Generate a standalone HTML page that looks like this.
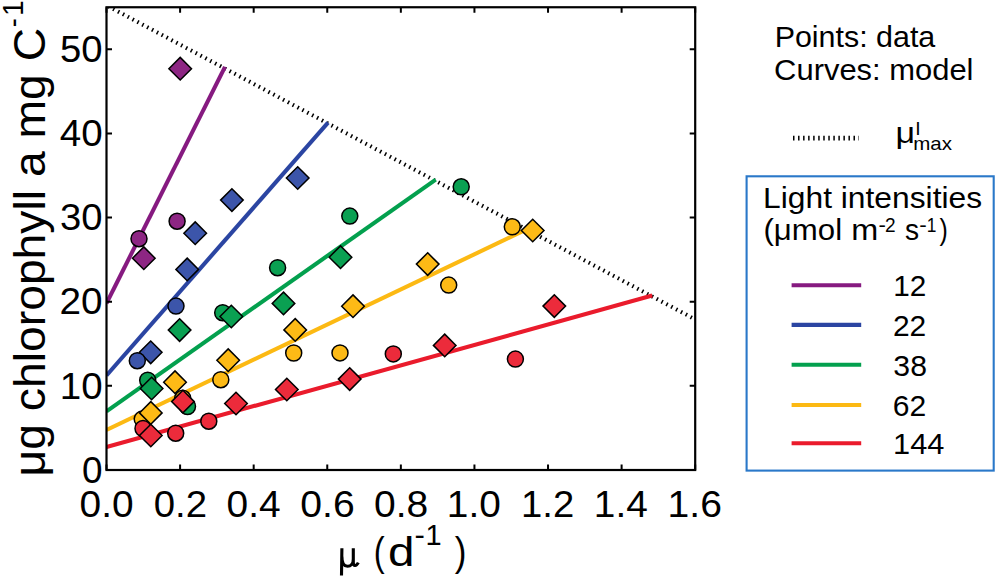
<!DOCTYPE html><html><head><meta charset="utf-8"><style>html,body{margin:0;padding:0;background:#fff;overflow:hidden}svg{display:block}text{font-family:"Liberation Sans",sans-serif;fill:#000}</style></head><body>
<svg width="997" height="578" viewBox="0 0 997 578">
<defs><clipPath id="ax"><rect x="106.5" y="7.25" width="588.70" height="462.75"/></clipPath></defs>
<g clip-path="url(#ax)"><line x1="106.5" y1="5.35" x2="695.2" y2="319.4" stroke="#000" stroke-width="4.0" stroke-dasharray="1.5 4.0" stroke-dashoffset="3.5"/>
<line x1="106.5" y1="303.3" x2="225.0" y2="66.9" stroke="#861A80" stroke-width="4.1"/>
<line x1="106.5" y1="375.5" x2="328.0" y2="122.6" stroke="#2B45A2" stroke-width="4.1"/>
<line x1="106.5" y1="411.3" x2="435.7" y2="179.6" stroke="#03A04E" stroke-width="4.1"/>
<line x1="106.5" y1="430.0" x2="528.0" y2="228.7" stroke="#FCB913" stroke-width="4.1"/>
<line x1="106.5" y1="446.9" x2="652.2" y2="295.6" stroke="#EA1B2C" stroke-width="4.1"/>
</g>
<g stroke="#000" stroke-width="1.5" stroke-linejoin="miter">
<circle cx="139.0" cy="238.7" r="8.0" fill="#8D2683"/>
<circle cx="177.1" cy="221.2" r="8.0" fill="#8D2683"/>
<path d="M180.2 57.4L191.5 68.7L180.2 80.0L168.9 68.7Z" fill="#8D2683"/>
<path d="M143.8 246.9L155.1 258.2L143.8 269.5L132.5 258.2Z" fill="#8D2683"/>
<path d="M231.9 188.8L243.2 200.1L231.9 211.4L220.6 200.1Z" fill="#3C55AA"/>
<path d="M297.7 166.7L309.0 178.0L297.7 189.3L286.4 178.0Z" fill="#3C55AA"/>
<path d="M195.2 221.9L206.5 233.2L195.2 244.5L183.9 233.2Z" fill="#3C55AA"/>
<path d="M187.2 258.1L198.5 269.4L187.2 280.7L175.9 269.4Z" fill="#3C55AA"/>
<path d="M150.7 341.0L162.0 352.3L150.7 363.6L139.4 352.3Z" fill="#3C55AA"/>
<circle cx="176.0" cy="306.1" r="8.0" fill="#3C55AA"/>
<circle cx="137.3" cy="360.7" r="8.0" fill="#3C55AA"/>
<circle cx="461.2" cy="186.8" r="8.0" fill="#0AA052"/>
<circle cx="349.8" cy="216.1" r="8.0" fill="#0AA052"/>
<circle cx="277.6" cy="267.7" r="8.0" fill="#0AA052"/>
<circle cx="222.7" cy="312.7" r="8.0" fill="#0AA052"/>
<circle cx="147.7" cy="380.2" r="8.0" fill="#0AA052"/>
<circle cx="187.5" cy="406.5" r="8.0" fill="#0AA052"/>
<path d="M340.5 245.9L351.8 257.2L340.5 268.5L329.2 257.2Z" fill="#0AA052"/>
<path d="M283.5 292.1L294.8 303.4L283.5 314.7L272.2 303.4Z" fill="#0AA052"/>
<path d="M231.3 305.2L242.6 316.5L231.3 327.8L220.0 316.5Z" fill="#0AA052"/>
<path d="M179.6 318.8L190.9 330.1L179.6 341.4L168.3 330.1Z" fill="#0AA052"/>
<path d="M151.6 377.2L162.9 388.5L151.6 399.8L140.3 388.5Z" fill="#0AA052"/>
<circle cx="512.3" cy="226.8" r="8.0" fill="#FDBA16"/>
<circle cx="448.7" cy="285.1" r="8.0" fill="#FDBA16"/>
<circle cx="293.7" cy="353.0" r="8.0" fill="#FDBA16"/>
<circle cx="340.0" cy="352.9" r="8.0" fill="#FDBA16"/>
<circle cx="220.8" cy="379.7" r="8.0" fill="#FDBA16"/>
<circle cx="182.7" cy="398.3" r="8.0" fill="#FDBA16"/>
<circle cx="142.2" cy="419.1" r="8.0" fill="#FDBA16"/>
<path d="M532.7 219.2L544.0 230.5L532.7 241.8L521.4 230.5Z" fill="#FDBA16"/>
<path d="M427.7 252.8L439.0 264.1L427.7 275.4L416.4 264.1Z" fill="#FDBA16"/>
<path d="M353.0 294.9L364.3 306.2L353.0 317.5L341.7 306.2Z" fill="#FDBA16"/>
<path d="M295.2 318.6L306.5 329.9L295.2 341.2L283.9 329.9Z" fill="#FDBA16"/>
<path d="M228.2 348.9L239.5 360.2L228.2 371.5L216.9 360.2Z" fill="#FDBA16"/>
<path d="M175.0 370.9L186.3 382.2L175.0 393.5L163.7 382.2Z" fill="#FDBA16"/>
<path d="M150.8 401.6L162.1 412.9L150.8 424.2L139.5 412.9Z" fill="#FDBA16"/>
<circle cx="515.4" cy="359.1" r="8.0" fill="#EC2B3B"/>
<circle cx="393.3" cy="353.9" r="8.0" fill="#EC2B3B"/>
<circle cx="208.8" cy="421.2" r="8.0" fill="#EC2B3B"/>
<circle cx="175.7" cy="433.2" r="8.0" fill="#EC2B3B"/>
<circle cx="143.0" cy="428.5" r="8.0" fill="#EC2B3B"/>
<path d="M554.3 294.8L565.6 306.1L554.3 317.4L543.0 306.1Z" fill="#EC2B3B"/>
<path d="M444.7 334.1L456.0 345.4L444.7 356.7L433.4 345.4Z" fill="#EC2B3B"/>
<path d="M349.7 367.8L361.0 379.1L349.7 390.4L338.4 379.1Z" fill="#EC2B3B"/>
<path d="M286.8 378.2L298.1 389.5L286.8 400.8L275.5 389.5Z" fill="#EC2B3B"/>
<path d="M236.0 392.2L247.3 403.5L236.0 414.8L224.7 403.5Z" fill="#EC2B3B"/>
<path d="M182.9 390.3L194.2 401.6L182.9 412.9L171.6 401.6Z" fill="#EC2B3B"/>
<path d="M150.8 424.2L162.1 435.5L150.8 446.8L139.5 435.5Z" fill="#EC2B3B"/>
</g>
<rect x="106.5" y="7.25" width="588.70" height="462.75" fill="none" stroke="#000" stroke-width="2.2"/>
<path d="M106.50 470.0v-5.5M106.50 7.25v5.5M180.09 470.0v-5.5M180.09 7.25v5.5M253.68 470.0v-5.5M253.68 7.25v5.5M327.26 470.0v-5.5M327.26 7.25v5.5M400.85 470.0v-5.5M400.85 7.25v5.5M474.44 470.0v-5.5M474.44 7.25v5.5M548.03 470.0v-5.5M548.03 7.25v5.5M621.61 470.0v-5.5M621.61 7.25v5.5M695.20 470.0v-5.5M695.20 7.25v5.5M106.5 470.00h5.5M695.2 470.00h-5.5M106.5 385.86h5.5M695.2 385.86h-5.5M106.5 301.73h5.5M695.2 301.73h-5.5M106.5 217.59h5.5M695.2 217.59h-5.5M106.5 133.45h5.5M695.2 133.45h-5.5M106.5 49.32h5.5M695.2 49.32h-5.5" stroke="#000" stroke-width="2" fill="none"/>
<text x="79.62" y="516.60" font-size="36.8" textLength="54.07" lengthAdjust="spacingAndGlyphs">0.0</text>
<text x="153.81" y="516.60" font-size="36.8" textLength="53.28" lengthAdjust="spacingAndGlyphs">0.2</text>
<text x="226.61" y="516.60" font-size="36.8" textLength="54.05" lengthAdjust="spacingAndGlyphs">0.4</text>
<text x="300.31" y="516.60" font-size="36.8" textLength="54.40" lengthAdjust="spacingAndGlyphs">0.6</text>
<text x="374.00" y="516.60" font-size="36.8" textLength="54.18" lengthAdjust="spacingAndGlyphs">0.8</text>
<text x="446.88" y="516.60" font-size="36.8" textLength="53.97" lengthAdjust="spacingAndGlyphs">1.0</text>
<text x="521.11" y="516.60" font-size="36.8" textLength="53.15" lengthAdjust="spacingAndGlyphs">1.2</text>
<text x="593.88" y="516.60" font-size="36.8" textLength="53.94" lengthAdjust="spacingAndGlyphs">1.4</text>
<text x="667.57" y="516.60" font-size="36.8" textLength="54.30" lengthAdjust="spacingAndGlyphs">1.6</text>
<text x="82.02" y="482.75" font-size="36.8" textLength="20.52" lengthAdjust="spacingAndGlyphs">0</text>
<text x="59.80" y="398.61" font-size="36.8" textLength="42.80" lengthAdjust="spacingAndGlyphs">10</text>
<text x="59.50" y="314.48" font-size="36.8" textLength="43.11" lengthAdjust="spacingAndGlyphs">20</text>
<text x="60.10" y="230.34" font-size="36.8" textLength="42.49" lengthAdjust="spacingAndGlyphs">30</text>
<text x="59.71" y="146.20" font-size="36.8" textLength="42.89" lengthAdjust="spacingAndGlyphs">40</text>
<text x="60.06" y="62.07" font-size="36.8" textLength="42.54" lengthAdjust="spacingAndGlyphs">50</text>
<path d="M341.9 548.2L341.5 575.6M341.9 556.5C341.9 564.5 345 566.3 347.6 566.3C350.6 566.3 353.3 564 353.3 559M353.3 548.2L353.3 562.5C353.3 566.2 356.2 566.6 358.3 562.6" fill="none" stroke="#000" stroke-width="3.1"/>
<text x="373.77" y="566.20" font-size="41.5" textLength="10.93" lengthAdjust="spacingAndGlyphs">(</text>
<text x="388.00" y="566.20" font-size="41.5" textLength="26.47" lengthAdjust="spacingAndGlyphs">d</text>
<text x="414.42" y="545.00" font-size="29.3" textLength="10.37" lengthAdjust="spacingAndGlyphs">-</text>
<text x="425.59" y="545.00" font-size="29.3" textLength="16.12" lengthAdjust="spacingAndGlyphs">1</text>
<text x="454.79" y="566.20" font-size="41.5" textLength="11.68" lengthAdjust="spacingAndGlyphs">)</text>
<g transform="translate(45.40,473.30) rotate(-90)"><text x="-3.12" y="0.00" font-size="44.5" textLength="448.48" lengthAdjust="spacingAndGlyphs">μg chlorophyll a mg C</text></g>
<g transform="translate(23.00,26.00) rotate(-90)"><text x="-1.20" y="0.00" font-size="29.9" textLength="9.00" lengthAdjust="spacingAndGlyphs">-</text></g>
<g transform="translate(23.00,13.90) rotate(-90)"><text x="-2.14" y="0.00" font-size="29.9" textLength="15.61" lengthAdjust="spacingAndGlyphs">1</text></g>
<text x="774.65" y="47.10" font-size="28.85" textLength="160.65" lengthAdjust="spacingAndGlyphs">Points: data</text>
<text x="774.13" y="79.90" font-size="28.85" textLength="199.34" lengthAdjust="spacingAndGlyphs">Curves: model</text>
<line x1="793" y1="138.1" x2="859" y2="138.1" stroke="#000" stroke-width="4.8" stroke-dasharray="1.5 3.54"/>
<text x="895.41" y="143.30" font-size="28.85" textLength="19.58" lengthAdjust="spacingAndGlyphs">μ</text>
<text x="915.22" y="134.90" font-size="18.9" textLength="5.36" lengthAdjust="spacingAndGlyphs">I</text>
<text x="913.24" y="150.00" font-size="19.0" textLength="38.78" lengthAdjust="spacingAndGlyphs">max</text>
<rect x="746.6" y="176.3" width="247.1" height="294.3" fill="none" stroke="#2A78C9" stroke-width="2.1"/>
<text x="763.04" y="207.60" font-size="28.85" textLength="219.11" lengthAdjust="spacingAndGlyphs">Light intensities</text>
<text x="763.47" y="240.30" font-size="28.85" textLength="78.62" lengthAdjust="spacingAndGlyphs">(μmol</text>
<text x="851.15" y="240.30" font-size="28.85" textLength="26.99" lengthAdjust="spacingAndGlyphs">m</text>
<text x="878.62" y="232.30" font-size="19.3" textLength="7.37" lengthAdjust="spacingAndGlyphs">-</text>
<text x="884.94" y="232.30" font-size="19.3" textLength="10.62" lengthAdjust="spacingAndGlyphs">2</text>
<text x="905.11" y="240.30" font-size="28.85" textLength="14.10" lengthAdjust="spacingAndGlyphs">s</text>
<text x="919.20" y="232.30" font-size="19.3" textLength="7.50" lengthAdjust="spacingAndGlyphs">-</text>
<text x="926.87" y="232.30" font-size="19.3" textLength="9.67" lengthAdjust="spacingAndGlyphs">1</text>
<text x="939.55" y="240.30" font-size="28.85" textLength="8.29" lengthAdjust="spacingAndGlyphs">)</text>
<line x1="791.6" y1="285.2" x2="861.2" y2="285.2" stroke="#861A80" stroke-width="4.1"/>
<text x="893.17" y="296.20" font-size="29.4" textLength="33.09" lengthAdjust="spacingAndGlyphs">12</text>
<line x1="791.6" y1="324.9" x2="861.2" y2="324.9" stroke="#2B45A2" stroke-width="4.1"/>
<text x="892.91" y="335.90" font-size="29.4" textLength="33.35" lengthAdjust="spacingAndGlyphs">22</text>
<line x1="791.6" y1="364.8" x2="861.2" y2="364.8" stroke="#03A04E" stroke-width="4.1"/>
<text x="893.35" y="375.80" font-size="29.4" textLength="33.59" lengthAdjust="spacingAndGlyphs">38</text>
<line x1="791.6" y1="405.0" x2="861.2" y2="405.0" stroke="#FCB913" stroke-width="4.1"/>
<text x="892.80" y="416.00" font-size="29.4" textLength="33.47" lengthAdjust="spacingAndGlyphs">62</text>
<line x1="791.6" y1="443.3" x2="861.2" y2="443.3" stroke="#EA1B2C" stroke-width="4.1"/>
<text x="893.09" y="454.30" font-size="29.4" textLength="51.34" lengthAdjust="spacingAndGlyphs">144</text>
</svg></body></html>
